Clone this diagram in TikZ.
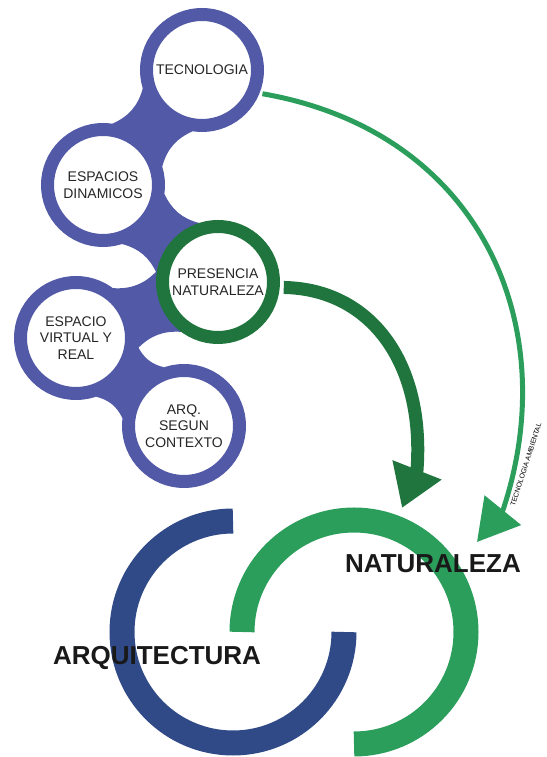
\documentclass[tikz,border=0pt]{standalone}
\usepackage{fontspec}
\setmainfont{Liberation Sans}
\usepackage{xcolor}
\usepackage{tikz}
\usetikzlibrary{arrows.meta, calc, positioning, backgrounds}
\definecolor{ringblue}{rgb}{0.32, 0.35, 0.65}
\definecolor{deepblue}{rgb}{0.19, 0.29, 0.53}
\definecolor{darkgreen}{rgb}{0.12, 0.46, 0.24}
\definecolor{lightgreen}{rgb}{0.17, 0.62, 0.36}
\tikzstyle{ringnode} = [circle, minimum size=111pt, inner sep=0pt, line width=13pt, draw=ringblue, fill=white, align=center, text=black!85, font=\fontsize{14}{16.5}\selectfont]
\tikzstyle{bigarc} = [line width=25pt]
\tikzstyle{biglabel} = [font=\fontsize{26}{30}\selectfont\bfseries, text=black!90]
% concave blob between two rings
\newcommand{\joinring}[2]{%
\fill[ringblue] let \p1=($(#2)-(#1)$), \n1={atan2(\y1,\x1)} in
($(#1)+(\n1+32:62)$) to[bend right=25] ($(#2)+(\n1+148:62)$)
-- ($(#2)+(\n1+212:62)$) to[bend right=25] ($(#1)+(\n1-32:62)$) -- cycle;}

\begin{document}
\begin{tikzpicture}[x=1pt,y=1pt]
\useasboundingbox (0,0) rectangle (546,757);

% rings
\node[ringnode] (tec) at (202,687) {TECNOLOGIA};
\node[ringnode] (espd) at (103,572) {ESPACIOS\\DINAMICOS};
\node[ringnode, draw=darkgreen] (pres) at (218,475) {PRESENCIA\\NATURALEZA};
\node[ringnode] (espv) at (76,419) {ESPACIO\\VIRTUAL Y\\REAL};
\node[ringnode] (arq) at (184,331) {ARQ.\\SEGUN\\CONTEXTO};

\begin{scope}[on background layer]
\joinring{tec}{espd}
\joinring{espd}{pres}
\joinring{pres}{espv}
\joinring{espv}{arq}
\end{scope}

% the two big rings
\coordinate (arqc) at (233,125);
\coordinate (natc) at (354,125);
\draw[bigarc, deepblue] ($(arqc)+(90:111)$) arc[start angle=90, end angle=360, radius=111];
\draw[bigarc, lightgreen] ($(natc)+(180:112)$) arc[start angle=180, end angle=-90, radius=112];

\node[biglabel] (arqlabel) at (157,99) {ARQUITECTURA};
\node[biglabel] (natlabel) at (433,193) {NATURALEZA};

% arrows
\coordinate (presmid) at (417,287);
\coordinate (prestip) at (402,249);
\draw[darkgreen, line width=13pt, shorten <=4pt, -{Triangle[length=41pt, width=50pt]}]
(pres.-5) .. controls (370,468) and (425,395) .. (presmid) -- (prestip);

\coordinate (tecmid) at (503,247);
\coordinate (tectip) at (477,215);
\draw[lightgreen, line width=5pt, shorten <=3pt, -{Triangle[length=41pt, width=46pt]}]
(tec.-22) .. controls (482,625) and (564,430) .. (tecmid) -- (tectip);

\node[anchor=south west, rotate=72, inner sep=0pt, font=\fontsize{7}{8}\selectfont] (ambtext) at (515,250) {TECNOLOGIA AMBIENTAL};
\end{tikzpicture}
\end{document}
